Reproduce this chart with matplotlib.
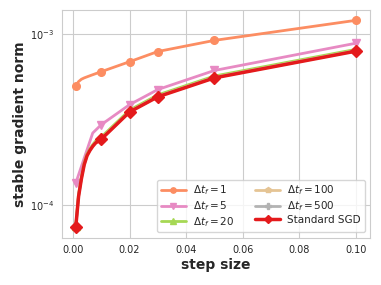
import numpy as np
import matplotlib
matplotlib.use("Agg")
import matplotlib.pyplot as plt
import seaborn as sns

sns.set_style("whitegrid")
plt.rcParams['font.family'] = ['DejaVu Sans']

# step sizes
x_fine = [0.001, 0.002, 0.003, 0.004, 0.005, 0.006, 0.007, 0.008, 0.009, 0.01, 0.02, 0.03, 0.05, 0.1]
x_pink = [0.001, 0.007, 0.01, 0.02, 0.03, 0.05, 0.1]

y_dt1 = [4.97e-4, 5.25e-4, 5.42e-4, 5.52e-4, 5.6e-4, 5.68e-4, 5.76e-4, 5.84e-4, 5.92e-4, 6.0e-4,
         6.86e-4, 7.87e-4, 9.14e-4, 1.197e-3]
y_dt5 = [1.34e-4, 2.63e-4, 2.94e-4, 3.85e-4, 4.72e-4, 6.1e-4, 8.8e-4]
y_sgd = [7.4e-5, 1.12e-4, 1.42e-4, 1.72e-4, 1.94e-4, 2.08e-4, 2.2e-4, 2.3e-4, 2.36e-4, 2.42e-4,
         3.49e-4, 4.28e-4, 5.52e-4, 7.91e-4]
y_dt20 = [7.5e-5, 1.15e-4, 1.46e-4, 1.77e-4, 1.99e-4, 2.13e-4, 2.25e-4, 2.36e-4, 2.42e-4, 2.49e-4,
          3.58e-4, 4.39e-4, 5.66e-4, 8.1e-4]
y_dt100 = [7.45e-5, 1.13e-4, 1.44e-4, 1.74e-4, 1.96e-4, 2.1e-4, 2.22e-4, 2.32e-4, 2.38e-4, 2.44e-4,
           3.52e-4, 4.32e-4, 5.57e-4, 7.98e-4]
y_dt500 = [7.42e-5, 1.125e-4, 1.43e-4, 1.73e-4, 1.95e-4, 2.09e-4, 2.21e-4, 2.31e-4, 2.37e-4, 2.43e-4,
           3.5e-4, 4.3e-4, 5.54e-4, 7.94e-4]

marks = [0, 9, 10, 11, 12, 13]

fig, ax = plt.subplots(figsize=(3.81, 2.85), dpi=100)
fig.subplots_adjust(left=0.162, right=0.971, top=0.965, bottom=0.166)

ax.plot(x_fine, y_dt1, color='#fc8d62', marker='o', ms=5.5, lw=2, markevery=marks, label=r'$\Delta t_f = 1$')
ax.plot(x_pink, y_dt5, color='#e78ac3', marker='v', ms=5.5, lw=2, markevery=[0, 2, 3, 4, 5, 6], label=r'$\Delta t_f = 5$')
ax.plot(x_fine, y_dt20, color='#a6d854', marker='^', ms=5.5, lw=2, markevery=marks, label=r'$\Delta t_f = 20$')
ax.plot(x_fine, y_dt100, color='#e5c494', marker='p', ms=5.5, lw=2, markevery=marks, label=r'$\Delta t_f = 100$')
ax.plot(x_fine, y_dt500, color='#b3b3b3', marker='P', ms=5.5, lw=2, markevery=marks, label=r'$\Delta t_f = 500$')
ax.plot(x_fine, y_sgd, color='#e41a1c', marker='D', ms=6, lw=2.5, markevery=marks, label='Standard SGD')

ax.set_yscale('log')
ax.set_xticks([0.0, 0.02, 0.04, 0.06, 0.08, 0.10])
ax.set_xticklabels(['0.00', '0.02', '0.04', '0.06', '0.08', '0.10'])
ax.tick_params(labelsize=7, pad=2)
ax.minorticks_off()
ax.set_xlabel('step size', fontsize=10, fontweight='bold', labelpad=2)
ax.set_ylabel('stable gradient norm', fontsize=10, fontweight='bold', labelpad=2)
ax.legend(loc='lower right', ncol=2, fontsize=7.5, handlelength=2.4, columnspacing=2.0,
          labelspacing=0.2, borderpad=0.35, handletextpad=0.7, markerscale=0.7)

fig.savefig('out.png', dpi=100)
